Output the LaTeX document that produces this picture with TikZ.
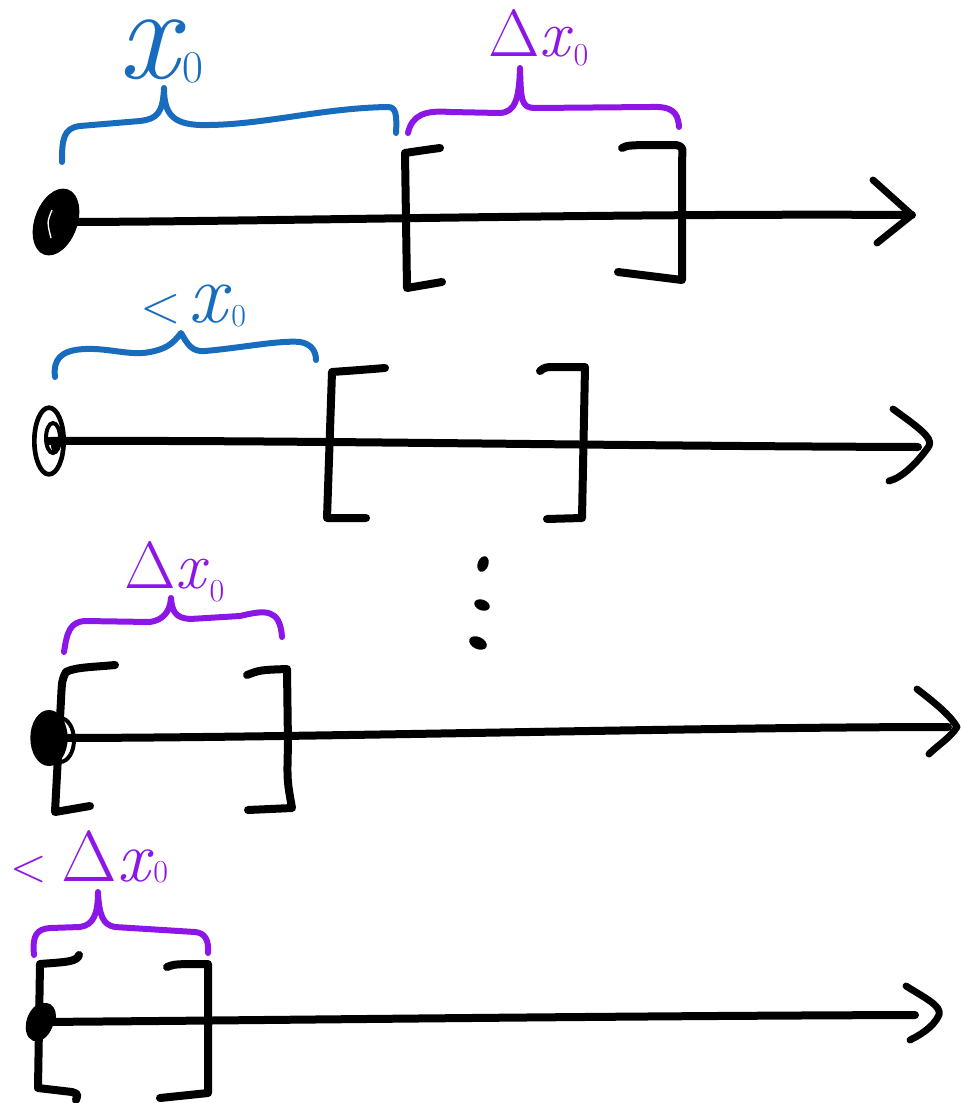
\documentclass[tikz,border=0pt]{standalone}
\usetikzlibrary{shapes.geometric}
\definecolor{penblue}{RGB}{24,108,190}
\definecolor{penpurple}{RGB}{140,22,232}
\tikzset{
  ink/.style={line width=6pt, line cap=round, line join=round},
  brace/.style={line width=4.5pt, line cap=round, line join=round},
  headstroke/.style={line width=5.2pt, line cap=round, line join=round},
  blob/.style={ellipse, fill=black, draw=black, line width=2pt, inner sep=0pt},
  ring/.style={line width=3pt},
  speck/.style={ellipse, fill=black, inner sep=0pt},
  hand/.style={inner sep=0pt, anchor=base west},
}
% text at a given size; a lowered small digit for the index
\newcommand{\sz}[2]{{\fontsize{#1}{#1}\selectfont #2}}
\newcommand{\idx}[2]{\raisebox{-#1}{\sz{#2}{0}}}
\begin{document}
\begin{tikzpicture}[x=0.75pt,y=-0.75pt]
\useasboundingbox (0,0) rectangle (962,1103);

% ---------- first number line ----------
\node[blob, minimum width=30pt, minimum height=50pt, rotate=-20] (p1) at (56,222) {};
\draw[ring] (p1.center) ellipse [x radius=19, y radius=32, rotate=-20];
\draw[white, line width=1pt] (52,210) .. controls (47,222) .. (51,238);
\coordinate (e1) at (912,215);
\draw[ink] (p1.center) .. controls (250,222) and (600,213) .. (e1);
\draw[headstroke] (873,180) -- (e1) -- (877,243);
\draw[ink] (440,148) .. controls (425,150) .. (405,153) -- (407,288) -- (442,282);
\draw[ink] (622,148) .. controls (628,145) .. (676,145) .. controls (683,147) .. (682,160) -- (682,280) -- (618,272);
\draw[brace, penblue] (62,162) .. controls (62,140) and (63,128) .. (80,126) -- (140,121)
  .. controls (157,119) and (163,113) .. (164,88) .. controls (164,113) and (172,124) .. (200,125)
  .. controls (260,126) and (320,108) .. (388,107) .. controls (396,107) and (397,115) .. (396,133);
\draw[brace, penpurple] (408,133) .. controls (412,115) and (425,110) .. (450,112) -- (500,113)
  .. controls (515,112) and (519,100) .. (520,68) .. controls (521,100) and (521,108) .. (535,108)
  -- (650,107) .. controls (672,106) and (678,112) .. (679,127);
\node[hand, text=penblue] (t1) at (118,78) {\sz{100}{\itshape x}\hspace{3pt}\idx{3pt}{34}};
\node[hand, text=penpurple] (t2) at (488,56) {\sz{50}{Δ\itshape x}\hspace{3pt}\idx{7pt}{24}};

% ---------- second number line ----------
\node[blob, fill=white, line width=3.5pt, minimum width=22pt, minimum height=50pt] (p2) at (49,441) {};
\draw[ring] (53,438) ellipse [x radius=7, y radius=15];
\fill (55,445) ellipse [x radius=4, y radius=8];
\coordinate (e2) at (918,447);
\draw[ink] (p2.center) .. controls (300,440) and (600,446) .. (e2);
\draw[headstroke] (893,409) .. controls (915,425) and (934,438) .. (929,446)
  .. controls (918,462) and (902,478) .. (889,481);
\draw[ink] (385,368) .. controls (360,370) .. (332,372) -- (327,518) -- (366,518);
\draw[ink] (540,371) .. controls (545,367) .. (560,367) -- (585,367) -- (582,518) -- (547,519);
\draw[brace, penblue] (55,377) .. controls (53,360) and (60,350) .. (85,349)
  .. controls (110,348) and (130,356) .. (150,352) .. controls (165,349) and (172,345) .. (181,333)
  .. controls (188,345) and (192,352) .. (205,351) .. controls (240,348) and (280,340) .. (300,342)
  .. controls (312,344) and (316,352) .. (316,360);
\node[hand, text=penblue] (t3) at (140,322) {\sz{40}{<}\hspace{6pt}\sz{64}{\itshape x}\hspace{3pt}\idx{3pt}{24}};

% ---------- the vertical ellipsis ----------
\node[speck, minimum width=8pt, minimum height=12pt, rotate=-20] (v1) at (483,564) {};
\node[speck, minimum width=12pt, minimum height=8pt, rotate=-20] (v2) at (482,605) {};
\node[speck, minimum width=14pt, minimum height=9pt, rotate=-25] (v3) at (478,643) {};

% ---------- third number line ----------
\node[blob, minimum width=26pt, minimum height=40pt] (p3) at (49,738) {};
\draw[ring] (60,740) ellipse [x radius=14, y radius=22];
\coordinate (e3) at (948,727);
\draw[ink] (p3.center) .. controls (300,738) and (700,727) .. (e3);
\draw[headstroke] (917,689) .. controls (935,703) and (950,715) .. (957,727)
  .. controls (950,738) and (938,745) .. (929,754);
\draw[ink] (115,665) .. controls (95,667) and (75,667) .. (66,672) .. controls (62,680) .. (61,700)
  -- (55,812) -- (90,806);
\draw[ink] (247,675) .. controls (260,670) .. (287,669) -- (288,745) .. controls (287,780) .. (292,808) -- (248,810);
\draw[brace, penpurple] (64,652) .. controls (67,632) and (70,622) .. (85,621) -- (150,622)
  .. controls (163,620) and (170,612) .. (171,598) .. controls (172,612) and (176,618) .. (190,619)
  -- (240,616) .. controls (265,610) and (280,608) .. (282,637);
\node[hand, text=penpurple] (t4) at (124,588) {\sz{50}{Δ\itshape x}\hspace{3pt}\idx{10pt}{24}};

% ---------- fourth number line ----------
\node[blob, minimum width=18pt, minimum height=28pt, rotate=-20] (p4) at (40,1022) {};
\draw[ring] (46,1016) ellipse [x radius=8, y radius=11];
\coordinate (e4) at (915,1015);
\draw[ink] (p4.center) .. controls (300,1020) and (600,1016) .. (e4);
\draw[headstroke] (906,986) .. controls (925,998) and (942,1006) .. (939,1015)
  .. controls (933,1028) and (918,1036) .. (910,1040);
\draw[ink] (79,955) .. controls (77,962) and (65,962) .. (40,964) -- (38,1088) -- (72,1092)
  .. controls (78,1094) .. (76,1100);
\draw[ink] (167,967) .. controls (175,964) .. (208,964) -- (208,1093) -- (160,1098);
\draw[brace, penpurple] (34,955) .. controls (32,935) and (37,929) .. (50,928) -- (80,927)
  .. controls (93,925) and (98,915) .. (98,892) .. controls (99,915) and (103,925) .. (115,927)
  -- (195,932) .. controls (205,933) and (209,940) .. (208,953);
\node[hand, text=penpurple] (t5) at (10,881) {\sz{36}{<}\hspace{11pt}\sz{54}{Δ\itshape x}\hspace{3pt}\idx{1pt}{24}};
\end{tikzpicture}
\end{document}
